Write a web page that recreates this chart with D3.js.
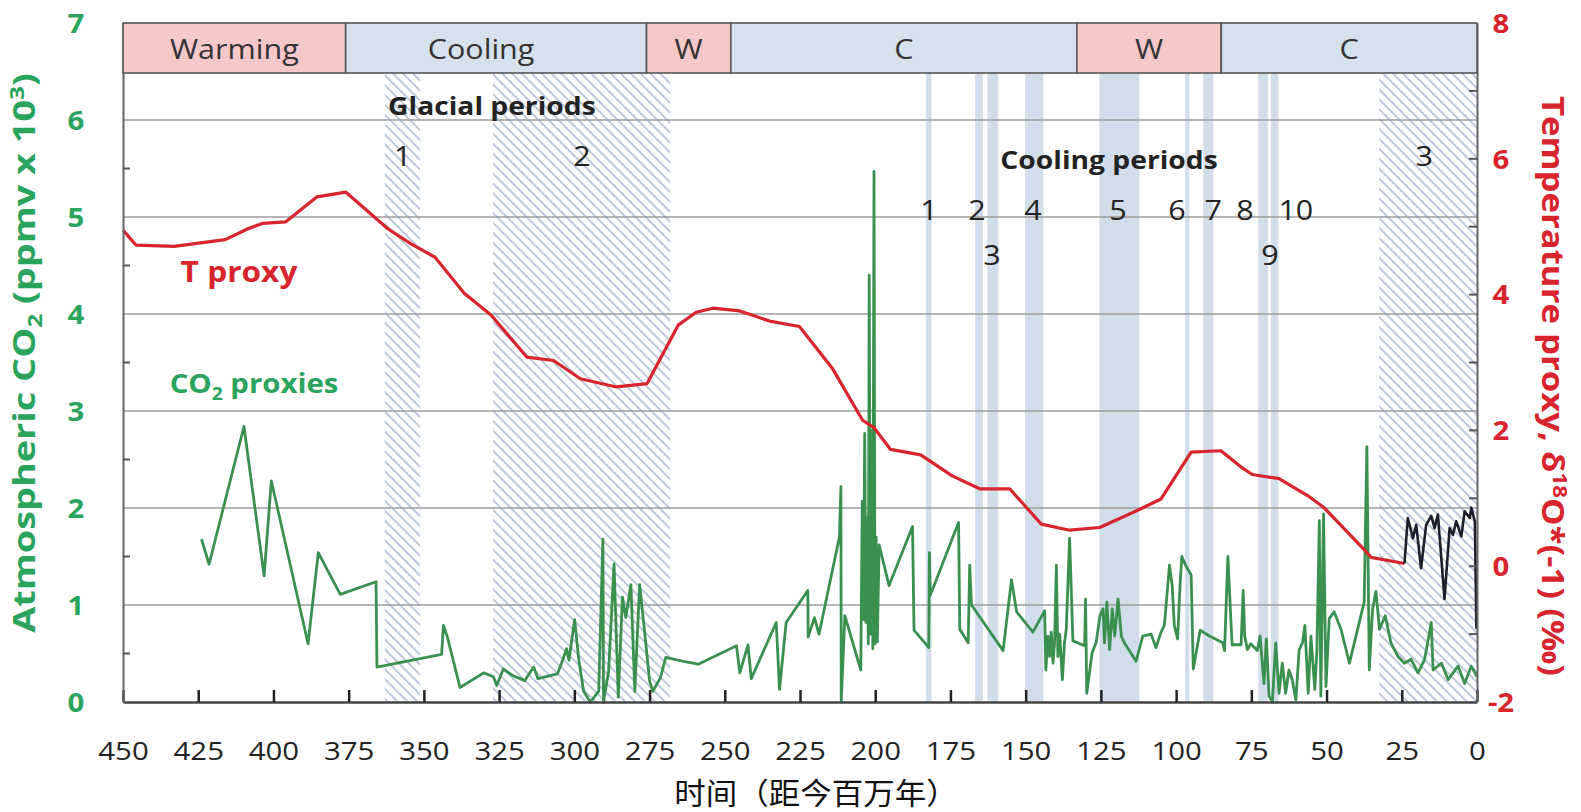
<!DOCTYPE html>
<html>
<head>
<meta charset="utf-8">
<script src="https://cdn.jsdelivr.net/npm/d3@7"></script>
<style>
  body { margin: 0; background: #fff; }
  svg { display: block; }
</style>
</head>
<body>
<svg id="chart" width="1581" height="812"></svg>
<script>
// ---- Data -------------------------------------------------------------
// Time axis ticks (millions of years before present)
const xTicks = d3.range(450, -1, -25);
const co2Ticks = [0, 1, 2, 3, 4, 5, 6, 7];
const tempTicks = [-2, 0, 2, 4, 6, 8];
const tempTickLabels = ["-2", "0", "2", "4", "6", "8"];

// Climate phases along the top band
const phaseNames = ["Warming", "Cooling", "W", "C", "W", "C"];
const phaseKinds = ["warm", "cool", "warm", "cool", "warm", "cool"];
const phaseBounds = [450, 376, 276, 248, 133, 85, 0];

// Glacial periods (hatched) [start, end] in Ma
const glacialSpans = [[363, 351.3], [327, 268.2], [32.5, 0]];
const glacialLabels = ["1", "2", "3"];
const glacialLabelAt = [357, 297.5, 17.5];

// Cooling periods (shaded) [start, end] in Ma
const coolingSpans = [[183.1, 181.3], [166.8, 164.2], [162.7, 159.1], [150.2, 144.1],
  [125.5, 112.2], [97, 95.6], [91, 87.6], [72.7, 69.5], [68.5, 66.0]];
const coolingLabels = ["1", "2", "3", "4", "5", "6", "7", "8", "9", "10"];
const coolingLabelAt = [182.1, 166.2, 161.2, 147.6, 119.3, 99.7, 87.7, 77.1, 68.8, 60.2];
const coolingLabelRow = [0, 0, 1, 0, 0, 0, 0, 0, 1, 0];

// Temperature proxy, δ18O*(-1) (‰)
const tProxy = [[450,4.95],[445.7,4.73],[433,4.71],[416,4.81],[408.5,4.97],[403.5,5.05],[396,5.07],
  [385.5,5.44],[376,5.51],[362,4.97],[354.4,4.75],[346.3,4.55],[336.6,4.02],[327.7,3.70],[315.8,3.08],
  [306.9,3.03],[298,2.76],[286,2.64],[275.8,2.69],[265.5,3.55],[259.5,3.74],[254,3.80],[245,3.76],
  [235.1,3.61],[225.2,3.53],[214.2,2.91],[204.2,2.15],[200.4,2.04],[194.9,1.72],[184.9,1.64],
  [174.4,1.33],[165.3,1.14],[155.3,1.14],[144.8,0.62],[135.4,0.53],[125.4,0.57],[114.4,0.79],
  [105,0.99],[95,1.68],[85.1,1.70],[78.4,1.46],[74.7,1.35],[65.8,1.29],[56.3,1.04],[50.8,0.86],
  [37.4,0.24],[35.2,0.13],[24.1,0.04]];

// Recent benthic record, same temperature scale
const tRecent = [[24.1,0.04],[23,0.71],[21.3,0.41],[20.2,0.61],[18.6,-0.03],[16.9,0.61],[15.2,0.74],
  [14.1,0.56],[13,0.76],[10.8,-0.48],[9.1,0.56],[8,0.46],[6.9,0.66],[5.2,0.44],[4.1,0.81],
  [2.4,0.71],[1.9,0.86],[0.7,0.66],[0.2,-0.92]];

// Atmospheric CO2 proxies (ppmv x 10^3)
const co2Proxy = [[423.9,1.68],[421.4,1.42],[409.8,2.84],[403.1,1.30],[400.7,2.28],[388.5,0.60],
  [385.1,1.54],[377.8,1.11],[365.9,1.24],[365.6,0.36],[344.1,0.49],[343.5,0.79],[342.2,0.67],
  [338,0.15],[330.1,0.30],[326.9,0.26],[325.8,0.17],[323.6,0.34],[320.3,0.27],[316.5,0.22],
  [313.5,0.36],[312.1,0.24],[305.6,0.29],[303.9,0.43],[302.6,0.55],[301.8,0.43],[299.9,0.85],
  [298.5,0.43],[296.9,0.11],[294.7,0.0],[291.9,0.11],[290.5,1.68],[290.3,0.0],[288.6,0.32],
  [286.8,1.42],[285.4,0.05],[284,1.08],[282.9,0.87],[281.2,1.21],[279.9,0.11],[278.3,1.21],
  [276.6,0.71],[275,0.22],[273.9,0.11],[271.4,0.25],[269.6,0.46],[263.8,0.42],[258.8,0.39],
  [246.1,0.58],[245,0.30],[242.3,0.59],[241.2,0.24],[232.9,0.82],[231.8,0.13],[229.6,0.82],
  [222.4,1.15],[222.3,0.67],[220.2,0.87],[218.7,0.70],[217.4,0.89],[211.9,1.70],[211.4,2.22],
  [211.3,0.0],[210.1,0.89],[204.8,0.33],[204.3,2.07],[203.9,0.85],[203.5,2.77],[203.1,0.82],
  [202.7,1.9],[202.3,0.6],[202,4.4],[201.6,0.7],[201.2,2.8],[200.8,0.55],[200.4,5.47],[200.1,0.6],
  [199.7,1.7],[199.3,0.62],[198.7,1.62],[195.4,1.20],[187.6,1.81],[187.1,0.74],[182.2,0.56],
  [182,1.54],[181.7,1.10],[172.3,1.85],[171.9,0.75],[169.1,0.61],[168.6,1.41],[168,1.00],
  [157.5,0.53],[154.7,1.26],[153,0.93],[147.6,0.72],[143.7,0.94],[143.3,0.33],[142.6,0.68],
  [142,0.47],[141.5,0.72],[140.9,0.40],[140.4,0.61],[139.8,1.41],[139.3,0.47],[138.7,0.70],
  [137.8,0.23],[137.1,0.61],[136.5,0.75],[135.4,1.69],[134.3,0.63],[130.4,0.58],[130.1,1.06],
  [129.7,0.09],[127.9,0.51],[126.6,0.61],[125.3,0.89],[124.3,0.96],[123.8,0.61],[123,1.03],
  [122.1,0.54],[121.2,0.96],[120.4,0.68],[119.3,1.06],[118.2,0.68],[117.2,0.61],[113.3,0.42],
  [111.1,0.68],[108.3,0.70],[106.7,0.56],[105,0.72],[103.9,0.79],[102.2,1.41],[101.3,1.20],
  [100.6,0.79],[99.5,0.65],[98.7,1.2],[98.1,1.50],[96.7,1.40],[95,1.31],[94.3,0.34],[92,0.74],
  [88.9,0.68],[84.5,0.61],[83.9,0.53],[82.8,1.50],[81.4,0.59],[78.4,0.59],[77.7,1.15],[77.2,0.68],
  [76.3,0.54],[75.2,0.60],[73,0.53],[72.1,0.68],[70.8,0.19],[70,0.65],[69.1,0.06],[68,0.0],
  [66.9,0.61],[65.8,0.09],[64.7,0.40],[63.6,0.09],[62.5,0.33],[61.4,0.23],[60.2,0.02],[59.1,0.54],
  [58,0.61],[57.2,0.79],[56.1,0.09],[55.2,0.68],[53.9,0.13],[53.2,0.54],[52.4,1.87],[51.9,0.06],
  [51,1.94],[50.2,0.16],[49.1,0.86],[47.5,0.93],[45.2,0.75],[42.4,0.40],[37.5,1.03],[36.6,2.63],
  [35.8,0.33],[34.7,0.96],[33.6,1.14],[32.4,0.75],[30.5,0.89],[28.6,0.61],[26.3,0.47],[24.1,0.40],
  [21.9,0.44],[19.6,0.30],[17.4,0.44],[15.2,0.82],[14.6,0.33],[11.8,0.40],[9.6,0.23],[6.3,0.37],
  [4.1,0.19],[1.9,0.37],[0,0.26]];

// ---- Layout ---------------------------------------------------------------
const svg = d3.select("#chart");
const FONT = "'Open Sans', 'Noto Sans', sans-serif";
const SX = 1.13;               // horizontal widening of the lettering
const pLeft = 123, pRight = 1477, pBottom = 702, pTop = 23, bandH = 50;
const plotTop = pTop + bandH;
const phaseLabelShift = [0, -15, 0, 0, 0, 0];   // px nudge of band captions

const x = d3.scaleLinear().domain([450, 0]).range([pLeft, pRight]);
const yC = d3.scaleLinear().domain([0, 7]).range([pBottom, pTop]);
const yT = d3.scaleLinear().domain([-2, 8]).range([pBottom, pTop]);

const GREEN_TXT = "#2aa35c", GREEN_LINE = "#3a904f", RED = "#d8242c";

function label(g, txt, px, py, o = {}) {
  return g.append("text")
    .attr("transform", `translate(${px},${py}) scale(${o.sx ?? SX},1)`)
    .attr("dy", "0.36em")
    .attr("text-anchor", o.anchor || "middle")
    .attr("font-family", o.family || FONT)
    .attr("font-size", o.size || 26)
    .attr("font-weight", o.weight || 400)
    .attr("fill", o.fill || "#222")
    .text(txt);
}

// hatch pattern for glacial periods
const defs = svg.append("defs");
defs.append("pattern")
  .attr("id", "hatch").attr("patternUnits", "userSpaceOnUse")
  .attr("width", 7).attr("height", 7)
  .attr("patternTransform", "rotate(-45)")
  .append("line")
  .attr("x1", 2).attr("y1", -2).attr("x2", 2).attr("y2", 9)
  .attr("stroke", "#bdc8d8").attr("stroke-width", 2);

// ---- Background shading ----------------------------------------------------
const bg = svg.append("g");
bg.selectAll("rect.cool").data(coolingSpans).join("rect")
  .attr("class", "cool")
  .attr("x", d => x(d[0])).attr("width", d => x(d[1]) - x(d[0]))
  .attr("y", plotTop).attr("height", pBottom - plotTop)
  .attr("fill", "#d2ddeb");

bg.selectAll("rect.glac").data(glacialSpans).join("rect")
  .attr("class", "glac")
  .attr("x", d => x(d[0])).attr("width", d => x(d[1]) - x(d[0]))
  .attr("y", plotTop).attr("height", pBottom - plotTop)
  .attr("fill", "url(#hatch)");

// gridlines
svg.append("g").selectAll("line").data([1, 2, 3, 4, 5, 6]).join("line")
  .attr("x1", pLeft).attr("x2", pRight)
  .attr("y1", d => yC(d)).attr("y2", d => yC(d))
  .attr("stroke", "#9c9c9c").attr("stroke-width", 1.6);

// ---- Series ----------------------------------------------------------------
const co2Line = d3.line().x(d => x(d[0])).y(d => yC(d[1]));
const tLine = d3.line().x(d => x(d[0])).y(d => yT(d[1]));

svg.append("path").datum(co2Proxy)
  .attr("d", co2Line).attr("fill", "none")
  .attr("stroke", GREEN_LINE).attr("stroke-width", 2.8)
  .attr("stroke-linejoin", "round");

svg.append("path").datum(tProxy)
  .attr("d", tLine).attr("fill", "none")
  .attr("stroke", RED).attr("stroke-width", 3.2)
  .attr("stroke-linejoin", "round");

svg.append("path").datum(tRecent)
  .attr("d", tLine).attr("fill", "none")
  .attr("stroke", "#1d1d2b").attr("stroke-width", 2.6)
  .attr("stroke-linejoin", "round");

// ---- Axes ------------------------------------------------------------------
const xAxis = svg.append("g").attr("transform", `translate(0,${pBottom})`)
  .call(d3.axisBottom(x).tickValues(xTicks).tickSizeInner(-12).tickSizeOuter(0).tickFormat(d3.format("d")));
xAxis.select(".domain").attr("stroke", "#444").attr("stroke-width", 2.5);
xAxis.selectAll(".tick line").attr("stroke", "#222").attr("stroke-width", 2.5);
xAxis.selectAll(".tick text")
  .attr("y", 0).attr("dy", "0.36em")
  .attr("transform", `translate(0,49) scale(${SX},1)`)
  .attr("font-family", FONT).attr("font-size", 26).attr("fill", "#222");

const yLeft = svg.append("g").attr("transform", `translate(${pLeft},0)`)
  .call(d3.axisLeft(yC).tickValues(co2Ticks).tickSize(0).tickFormat(d3.format("d")));
yLeft.select(".domain").attr("stroke", "#666").attr("stroke-width", 2);
yLeft.selectAll(".tick text")
  .attr("x", 0).attr("dy", "0.36em").attr("text-anchor", "middle")
  .attr("transform", `translate(-47,0) scale(${SX},1)`)
  .attr("font-family", FONT).attr("font-size", 26).attr("font-weight", 700)
  .attr("fill", GREEN_TXT);
yLeft.selectAll(".minor").data(d3.range(0.5, 6.5, 1)).join("line")
  .attr("class", "minor")
  .attr("x1", 0).attr("x2", 7)
  .attr("y1", d => yC(d)).attr("y2", d => yC(d))
  .attr("stroke", "#555").attr("stroke-width", 2);

const yRight = svg.append("g").attr("transform", `translate(${pRight},0)`)
  .call(d3.axisRight(yT).tickValues(tempTicks).tickSize(0).tickFormat((d, i) => tempTickLabels[i]));
yRight.select(".domain").attr("stroke", "#666").attr("stroke-width", 2);
yRight.selectAll(".tick text")
  .attr("x", 0).attr("dy", "0.36em").attr("text-anchor", "middle")
  .attr("transform", `translate(24,0) scale(${SX},1)`)
  .attr("font-family", FONT).attr("font-size", 26).attr("font-weight", 700)
  .attr("fill", RED);
yRight.selectAll(".minor").data(d3.range(-1, 8, 1)).join("line")
  .attr("class", "minor")
  .attr("x1", -8).attr("x2", 0)
  .attr("y1", d => yT(d)).attr("y2", d => yT(d))
  .attr("stroke", "#555").attr("stroke-width", 2);

// ---- Phase band ------------------------------------------------------------
const band = svg.append("g");
const phases = phaseNames.map((n, i) => ({ name: n, kind: phaseKinds[i], a: phaseBounds[i], b: phaseBounds[i + 1] }));
band.selectAll("rect").data(phases).join("rect")
  .attr("x", d => x(d.a)).attr("width", d => x(d.b) - x(d.a))
  .attr("y", pTop).attr("height", bandH)
  .attr("fill", d => d.kind === "warm" ? "#f6c8c8" : "#d6e1ee")
  .attr("stroke", "#555").attr("stroke-width", 1.6);
phases.forEach((d, i) => label(band, d.name, (x(d.a) + x(d.b)) / 2 + phaseLabelShift[i], pTop + bandH / 2 + 1,
  { size: 27, fill: "#333" }));

// ---- Annotations -----------------------------------------------------------
const ann = svg.append("g");
label(ann, "Glacial periods", x(327.4), 106, { size: 25, weight: 700 });
glacialLabels.forEach((t, i) => label(ann, t, x(glacialLabelAt[i]), 156, { size: 27 }));

label(ann, "Cooling periods", x(122.3), 160, { size: 25, weight: 700 });
coolingLabels.forEach((t, i) => label(ann, t, x(coolingLabelAt[i]), coolingLabelRow[i] ? 255 : 210, { size: 27 }));

label(ann, "T proxy", 239, 272, { size: 28, weight: 700, fill: RED });

const co2Lbl = ann.append("text")
  .attr("transform", `translate(254,384) scale(${SX},1)`)
  .attr("dy", "0.36em").attr("text-anchor", "middle")
  .attr("font-family", FONT).attr("font-size", 26).attr("font-weight", 700)
  .attr("fill", GREEN_TXT);
co2Lbl.append("tspan").text("CO");
co2Lbl.append("tspan").attr("font-size", 17).attr("dy", 7).text("2");
co2Lbl.append("tspan").attr("dy", -7).text(" proxies");

// left axis title
const lt = svg.append("text")
  .attr("transform", "translate(35,353) rotate(-90) scale(1.22,1)")
  .attr("text-anchor", "middle")
  .attr("font-family", FONT).attr("font-size", 31).attr("font-weight", 700)
  .attr("fill", GREEN_TXT);
lt.append("tspan").text("Atmospheric CO");
lt.append("tspan").attr("font-size", 20).attr("dy", 7).text("2");
lt.append("tspan").attr("dy", -7).text(" (ppmv x 10");
lt.append("tspan").attr("font-size", 20).attr("dy", -11).text("3");
lt.append("tspan").attr("dy", 11).text(")");

// right axis title
const rt = svg.append("text")
  .attr("transform", "translate(1542,386) rotate(90) scale(1.12,1)")
  .attr("text-anchor", "middle")
  .attr("font-family", FONT).attr("font-size", 31).attr("font-weight", 700)
  .attr("fill", RED);
rt.append("tspan").text("Temperature proxy, δ");
rt.append("tspan").attr("font-size", 20).attr("dy", -11).text("18");
rt.append("tspan").attr("dy", 11).text("O*(-1) (‰)");

// x axis title
label(svg, "时间（距今百万年）", 816, 793, { size: 30, sx: 1.05, family: "'Noto Sans CJK SC', sans-serif", fill: "#111" });
</script>
</body>
</html>
